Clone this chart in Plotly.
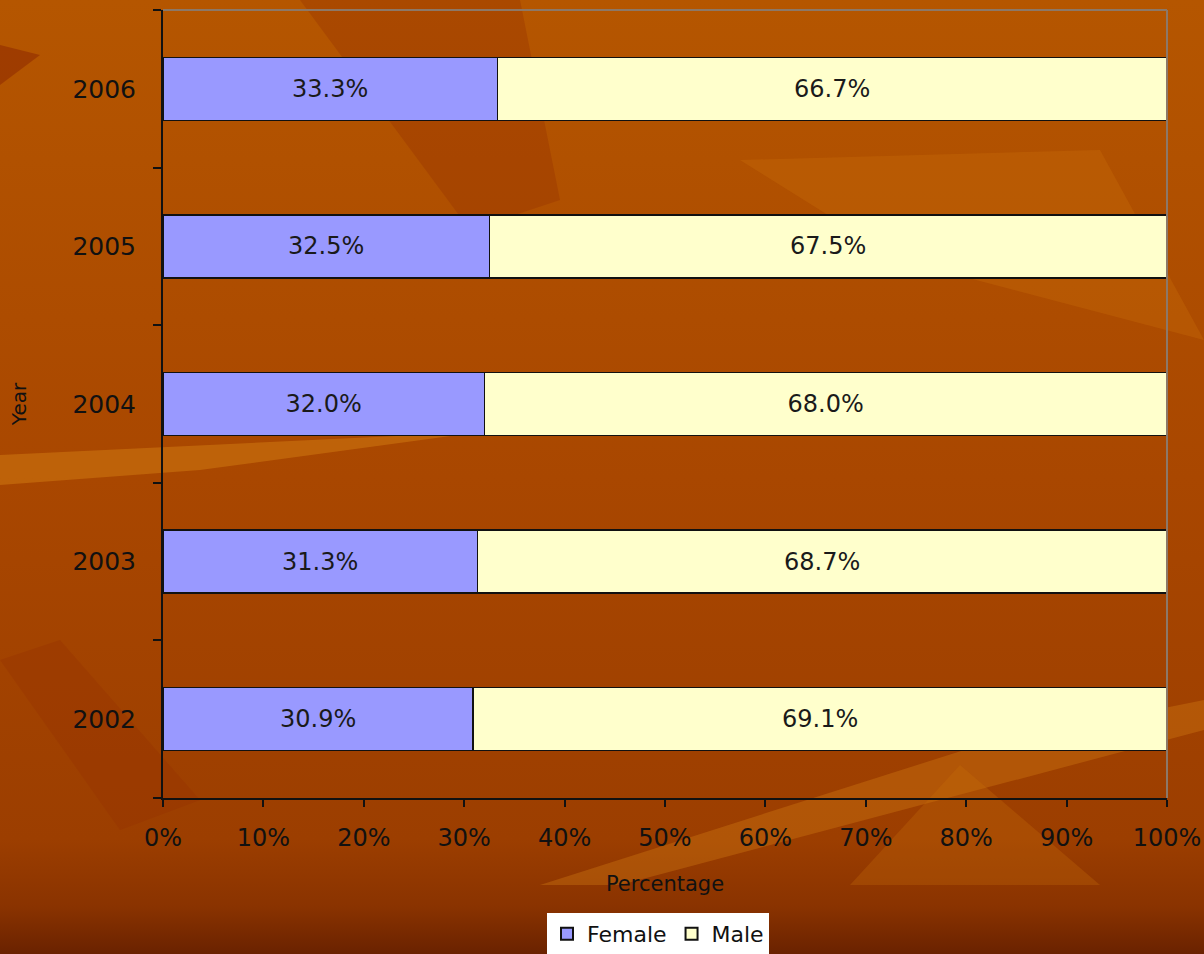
import plotly.graph_objects as go
import urllib.parse

years = ["2002", "2003", "2004", "2005", "2006"]
female = [30.9, 31.3, 32.0, 32.5, 33.3]
male = [69.1, 68.7, 68.0, 67.5, 66.7]
female_labels = ["30.9%", "31.3%", "32.0%", "32.5%", "33.3%"]
male_labels = ["69.1%", "68.7%", "68.0%", "67.5%", "66.7%"]
x_ticks = [0, 10, 20, 30, 40, 50, 60, 70, 80, 90, 100]
x_tick_text = ["0%", "10%", "20%", "30%", "40%", "50%", "60%", "70%", "80%", "90%", "100%"]

W, H = 1204, 954
L, R, T, B = 163, 37, 10, 156
pw, ph = W - L - R, H - T - B

def px_x(p):
    return (p - L) / pw

def px_y(p):
    return (H - B - p) / ph

font_family = "DejaVu Sans, Liberation Sans, sans-serif"

fig = go.Figure()
fig.add_trace(go.Bar(
    y=years, x=female, name="Female", orientation="h",
    marker=dict(color="#9999FF", line=dict(color="#111111", width=1.5)),
    text=female_labels, textposition="inside", insidetextanchor="middle",
    textfont=dict(color="#1a1a1a", size=24, family=font_family),
    hoverinfo="skip",
))
fig.add_trace(go.Bar(
    y=years, x=male, name="Male", orientation="h",
    marker=dict(color="#FFFFCC", line=dict(color="#111111", width=1.5)),
    text=male_labels, textposition="inside", insidetextanchor="middle",
    textfont=dict(color="#1a1a1a", size=24, family=font_family),
    hoverinfo="skip",
))

# smooth background gradient as an inline SVG image
svg = (
    f'<svg xmlns="http://www.w3.org/2000/svg" width="{W}" height="{H}" viewBox="0 0 {W} {H}">'
    '<defs><linearGradient id="g" x1="0" y1="0" x2="0" y2="1">'
    '<stop offset="0" stop-color="#B55600"/>'
    '<stop offset="0.5" stop-color="#A94700"/>'
    '<stop offset="0.88" stop-color="#9C3E00"/>'
    '<stop offset="0.95" stop-color="#8A3300"/>'
    '<stop offset="1" stop-color="#6A2200"/>'
    '</linearGradient></defs>'
    f'<rect width="{W}" height="{H}" fill="url(#g)"/>'
    '</svg>'
)
bg_src = "data:image/svg+xml;charset=utf-8," + urllib.parse.quote(svg)

shapes = []
streaks = [
    ([(0, 455), (480, 432), (200, 470), (0, 485)], "rgba(214,130,20,0.45)"),
    ([(0, 45), (40, 55), (0, 85)], "rgba(150,50,0,0.7)"),
    ([(740, 160), (1100, 150), (1204, 340), (900, 260)], "rgba(200,110,10,0.35)"),
    ([(300, 0), (520, 0), (560, 200), (470, 230)], "rgba(150,50,0,0.35)"),
    ([(540, 885), (980, 745), (1204, 700), (1204, 730), (620, 885)], "rgba(214,130,20,0.35)"),
    ([(850, 885), (960, 765), (1100, 885)], "rgba(200,110,10,0.3)"),
    ([(0, 660), (60, 640), (200, 800), (120, 830)], "rgba(150,50,0,0.35)"),
]
for pts, c in streaks:
    path = "M " + " L ".join(f"{px_x(a)} {px_y(b)}" for a, b in pts) + " Z"
    shapes.append(dict(type="path", xref="paper", yref="paper", path=path,
                       fillcolor=c, line=dict(width=0), layer="below"))
# gray plot border top and right
shapes.append(dict(type="line", xref="paper", yref="paper", x0=0, x1=1, y0=1, y1=1,
                   line=dict(color="#8C7868", width=2)))
shapes.append(dict(type="line", xref="paper", yref="paper", x0=1, x1=1, y0=0, y1=1,
                   line=dict(color="#8C7868", width=2)))

fig.update_layout(
    width=W, height=H,
    margin=dict(l=L, r=R, t=T, b=B, autoexpand=False),
    paper_bgcolor="#AD4A00",
    plot_bgcolor="rgba(0,0,0,0)",
    barmode="stack",
    bargap=0.6,
    font=dict(family=font_family, color="#111111"),
    shapes=shapes,
    images=[dict(source=bg_src, xref="paper", yref="paper",
                 x=px_x(0), y=px_y(0), sizex=W / pw, sizey=H / ph,
                 xanchor="left", yanchor="top", sizing="stretch", layer="below")],
    showlegend=True,
    legend=dict(orientation="h", x=px_x(658), xanchor="center", y=px_y(913), yanchor="top",
                bgcolor="#FFFFFF", borderwidth=0, font=dict(size=22, color="#111111"),
                itemsizing="constant", traceorder="normal", itemwidth=30),
    xaxis=dict(
        range=[0, 100], tickvals=x_ticks, ticktext=x_tick_text,
        showgrid=False, zeroline=False,
        showline=True, linecolor="#111111", linewidth=2,
        ticks="outside", ticklen=7, tickwidth=2, tickcolor="#111111",
        tickfont=dict(size=24, color="#111111"), ticklabelstandoff=10,
        title=dict(text="Percentage", font=dict(size=21, color="#111111"), standoff=26),
        fixedrange=True,
    ),
    yaxis=dict(
        categoryorder="array", categoryarray=years,
        showgrid=False, zeroline=False,
        showline=True, linecolor="#111111", linewidth=2,
        ticks="outside", tickson="boundaries", ticklen=8, tickwidth=2, tickcolor="#111111",
        tickfont=dict(size=25, color="#111111"), ticklabelstandoff=20,
        title=dict(text="Year", font=dict(size=20, color="#111111"), standoff=40),
        fixedrange=True,
    ),
)

fig.write_html(
    "out.html",
    config={"displayModeBar": False},
    post_script="document.body.style.margin='0';document.body.style.overflow='hidden';",
)
